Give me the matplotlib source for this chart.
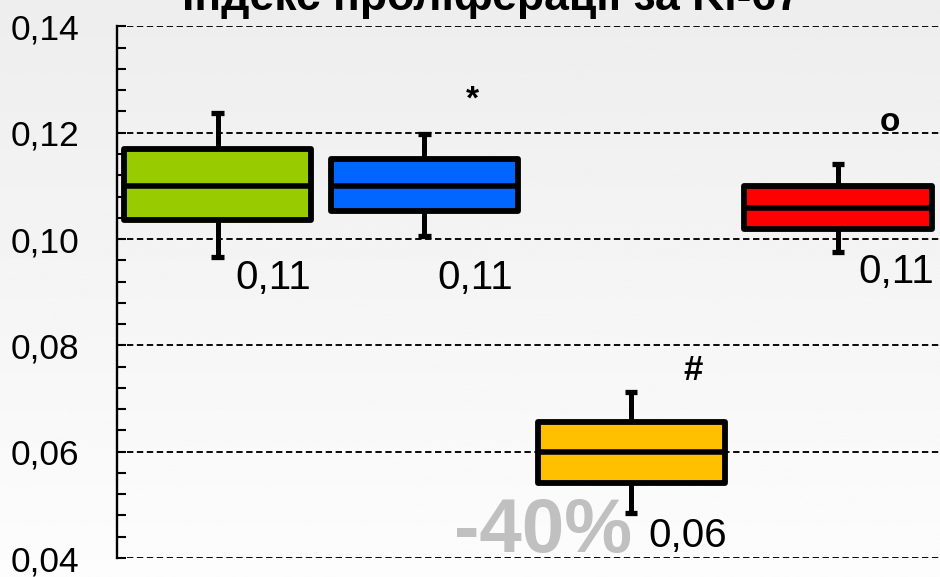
import numpy as np
import matplotlib.pyplot as plt
from matplotlib.ticker import MultipleLocator, FixedLocator

plt.rcParams['font.family'] = ['Liberation Sans', 'DejaVu Sans']

# Data
title = 'Індекс проліферації за Ki-67'
box_colors = ['#99cc00', '#0066ff', '#ffc000', '#ff0000']
medians = [0.110, 0.110, 0.060, 0.1058]
q1 = [0.1035, 0.1053, 0.0541, 0.1018]
q3 = [0.1169, 0.1150, 0.0656, 0.1100]
whis_lo = [0.0967, 0.1006, 0.0485, 0.0976]
whis_hi = [0.1238, 0.1198, 0.0712, 0.1142]
value_labels = ['0,11', '0,11', '0,06', '0,11']
marks = ['*', '#', 'o']
ytick_values = [0.04, 0.06, 0.08, 0.10, 0.12, 0.14]
ytick_labels = ['0,04', '0,06', '0,08', '0,10', '0,12', '0,14']
change_label = '-40%'

positions = np.arange(1, len(medians) + 1)

fig = plt.figure(figsize=(9.4, 5.77), dpi=100)

# soft grey-to-white background
bg = fig.add_axes([0, 0, 1, 1], zorder=-10)
grad = np.linspace(0.93, 0.99, 256).reshape(-1, 1)
bg.imshow(grad, cmap='gray', vmin=0, vmax=1, aspect='auto', origin='upper',
          extent=[0, 1, 0, 1])
bg.axis('off')

ax = fig.add_axes([0.1245, 0.0329, 0.8755, 0.9213])
ax.set_facecolor('none')

stats = []
for i in range(len(medians)):
    stats.append({'med': medians[i], 'q1': q1[i], 'q3': q3[i],
                  'whislo': whis_lo[i], 'whishi': whis_hi[i], 'fliers': []})

bp = ax.bxp(stats, positions=positions, widths=0.905, capwidths=0.06,
            patch_artist=True, showfliers=False, manage_ticks=False,
            boxprops=dict(linewidth=4.2, edgecolor='black', joinstyle='round'),
            medianprops=dict(linewidth=4.0, color='black', solid_capstyle='butt'),
            whiskerprops=dict(linewidth=3.6, color='black', solid_capstyle='butt'),
            capprops=dict(linewidth=3.8, color='black', solid_capstyle='butt'),
            zorder=3)
for patch, c in zip(bp['boxes'], box_colors):
    patch.set_facecolor(c)

ax.set_xlim(0.514, 4.493)
ax.set_ylim(0.04, 0.14)

ax.yaxis.set_major_locator(FixedLocator(ytick_values))
ax.set_yticklabels(ytick_labels)
ax.yaxis.set_minor_locator(MultipleLocator(0.004))
ax.set_xticks([])
ax.tick_params(axis='y', which='both', direction='in', length=6.5, width=1.5,
               pad=27, labelsize=25.5, colors='black')
ax.set_axisbelow(True)
ax.yaxis.grid(True, which='major', color='black', linewidth=1.35,
              linestyle=(0, (3.4, 1.9)))
for side in ['top', 'bottom', 'right']:
    ax.spines[side].set_visible(False)
ax.spines['left'].set_linewidth(1.7)

# value labels under the boxes
label_xy = [(1.084, 0.0906), (2.063, 0.0906), (3.084, 0.0421), (4.10, 0.0917)]
for (x, y), txt in zip(label_xy, value_labels):
    ax.text(x, y, txt, fontsize=29, ha='left', va='baseline', zorder=5)

ax.text(3.006, 0.0411, change_label, fontsize=55, fontweight='bold',
        color='#c0c0c0', ha='right', va='baseline', zorder=5)

# significance marks
ax.text(2.23, 0.1245, marks[0], fontsize=24, fontweight='bold',
        ha='center', va='baseline')
ax.text(3.30, 0.0735, marks[1], fontsize=25, fontweight='bold',
        ha='center', va='baseline')
ax.text(4.25, 0.1204, marks[2], fontsize=24, fontweight='bold',
        ha='center', va='baseline')

fig.text(491 / 940, 1 - 10 / 577, title, fontsize=32, fontweight='bold',
         ha='center', va='baseline')

fig.savefig('out.png', dpi=100)
